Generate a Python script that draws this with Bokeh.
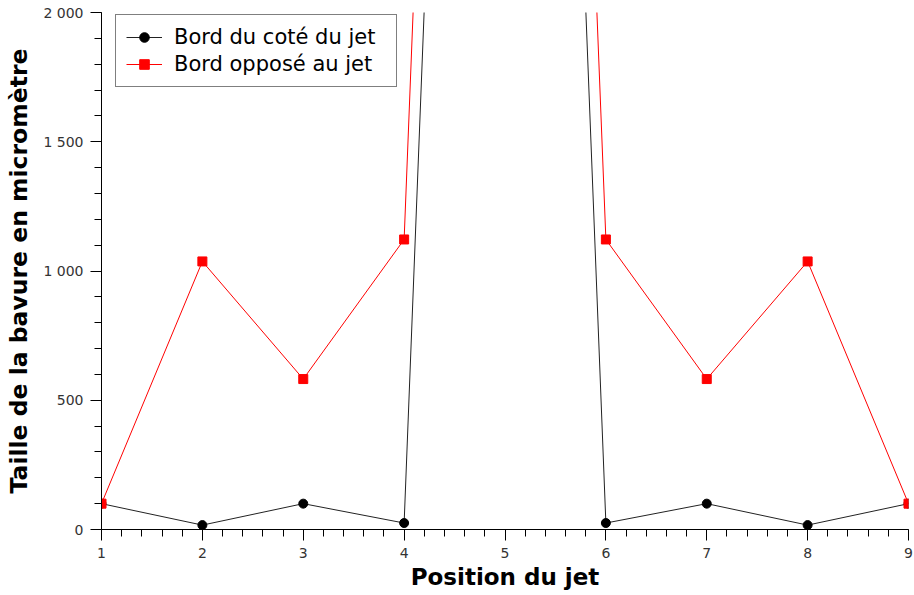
from bokeh.plotting import figure
from bokeh.models import FixedTicker, Range1d, Legend, LegendItem
from bokeh.embed import file_html
from bokeh.resources import INLINE

positions = [1, 2, 3, 4, 5, 6, 7, 8, 9]
bord_cote = [100, 17, 100, 25, 10000, 25, 100, 17, 100]
bord_oppose = [100, 1037, 582, 1122, 11000, 1122, 582, 1037, 100]
y_ticks = [0, 500, 1000, 1500, 2000]
y_minor = list(range(0, 2001, 100))
x_ticks = [1, 2, 3, 4, 5, 6, 7, 8, 9]
x_minor = [1 + i * 0.2 for i in range(41)]

W, H = 914, 595
BL, BR, BT, BB = 101, 6, 12, 66

p = figure(width=W, height=H, output_backend="svg", toolbar_location=None,
           x_range=Range1d(1, 9), y_range=Range1d(0, 2000),
           min_border_left=BL, min_border_right=BR, min_border_top=BT, min_border_bottom=BB)
p.outline_line_color = None
p.xgrid.visible = False
p.ygrid.visible = False
p.background_fill_color = "white"
p.border_fill_color = "white"

black = "#222222"
red = "#ff0000"
l1 = p.line(positions, bord_cote, line_color=black, line_width=1)
m1 = p.scatter(positions, bord_cote, marker="circle", size=9, fill_color="black", line_color="black")
l2 = p.line(positions, bord_oppose, line_color=red, line_width=1)
m2 = p.scatter(positions, bord_oppose, marker="square", size=9, fill_color=red, line_color=red)

p.xaxis.ticker = FixedTicker(ticks=x_ticks, minor_ticks=x_minor)
p.yaxis.ticker = FixedTicker(ticks=y_ticks, minor_ticks=y_minor)
p.yaxis.major_label_overrides = {t: f"{t:,}".replace(",", " ") for t in y_ticks}

for ax in (p.xaxis[0], p.yaxis[0]):
    ax.axis_line_color = "black"
    ax.major_tick_line_color = "black"
    ax.minor_tick_line_color = "black"
    ax.major_tick_in = 0
    ax.major_tick_out = 11
    ax.minor_tick_in = 0
    ax.minor_tick_out = 7
    ax.major_label_text_font = "DejaVu Sans"
    ax.major_label_text_font_size = "14px"
    ax.major_label_text_color = "#333333"
    ax.axis_label_text_font = "DejaVu Sans"
    ax.axis_label_text_font_style = "bold"
    ax.axis_label_text_color = "black"

p.xaxis.axis_label = "Position du jet"
p.yaxis.axis_label = "Taille de la bavure en micromètre"
p.xaxis.axis_label_text_font_size = "23px"
p.yaxis.axis_label_text_font_size = "23.5px"
p.xaxis.major_label_standoff = 7
p.xaxis.axis_label_standoff = 3
p.yaxis.major_label_standoff = 7
p.yaxis.axis_label_standoff = 7

frame_h = H - BT - BB
legend_h = 74
legend = Legend(items=[
    LegendItem(label="Bord du coté du jet", renderers=[l1, m1]),
    LegendItem(label="Bord opposé au jet", renderers=[l2, m2]),
], location=(14, frame_h - 1 - legend_h))
legend.label_text_font = "DejaVu Sans"
legend.label_text_font_size = "21px"
legend.label_text_color = "black"
legend.glyph_width = 36
legend.glyph_height = 24
legend.label_height = 24
legend.label_width = 212
legend.label_standoff = 12
legend.padding = 10
legend.spacing = 3
legend.margin = 0
legend.border_line_color = "black"
legend.border_line_width = 1
legend.background_fill_alpha = 1
p.add_layout(legend)

open("out.html", "w").write(file_html(p, INLINE))
